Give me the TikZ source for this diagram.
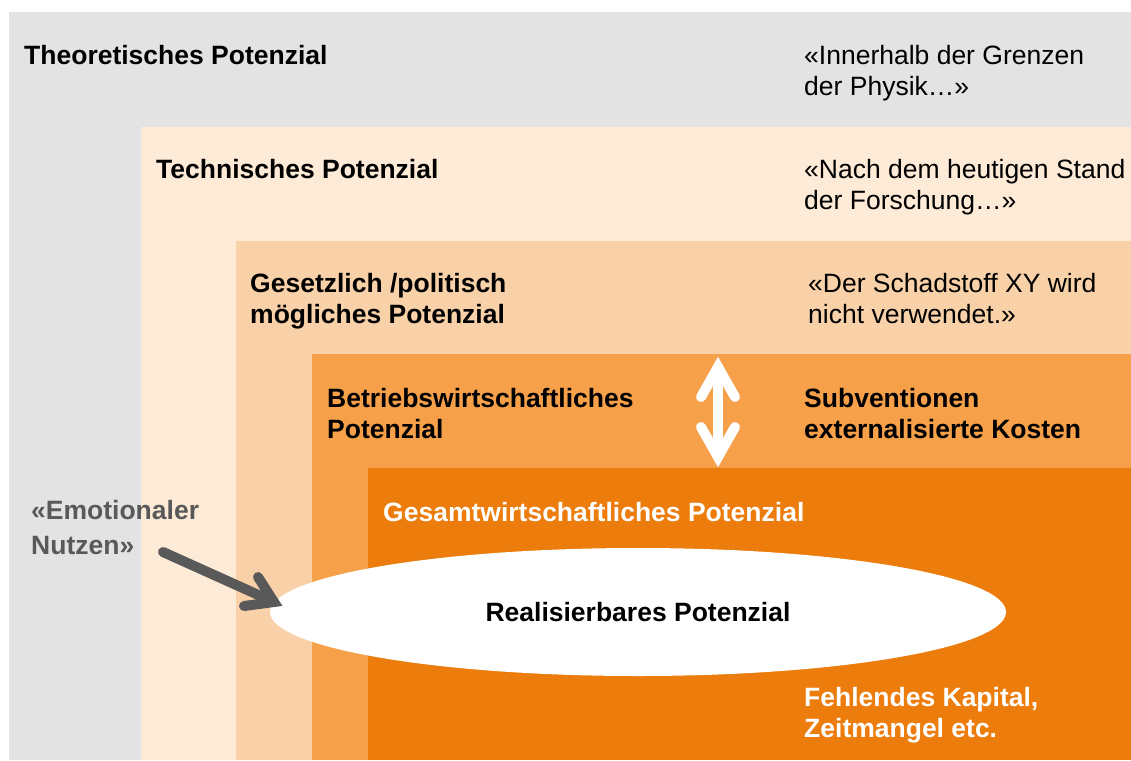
\documentclass[tikz,border=0pt]{standalone}
\usepackage{fontspec}
\setmainfont{Liberation Sans}
\usetikzlibrary{shapes.geometric}
\definecolor{cGray}{HTML}{E3E3E3}
\definecolor{cTech}{HTML}{FDEAD7}
\definecolor{cLaw}{HTML}{F9D1A8}
\definecolor{cBiz}{HTML}{F6A04A}
\definecolor{cEco}{HTML}{EC7C0B}
\definecolor{cArrow}{HTML}{595959}
\begin{document}
\begin{tikzpicture}[x=1pt,y=-1pt,
  lbl/.style={anchor=base west, inner sep=0pt, align=left, font=\fontsize{26.5}{31}\selectfont},
  blbl/.style={lbl, font=\fontsize{26.5}{31}\selectfont\bfseries},
  fatarrow/.style={line width=10pt, line cap=round, line join=miter, miter limit=10}]
\useasboundingbox[fill=white] (0,0) rectangle (1131,760);
% nested zones
\fill[cGray] (9,12) rectangle (1131,760);
\fill[cTech] (141,127) rectangle (1131,760);
\fill[cLaw] (236,241) rectangle (1131,760);
\fill[cBiz] (312,354) rectangle (1131,760);
\fill[cEco] (368,468) rectangle (1131,760);
% realisable potential
\node[ellipse, fill=white, minimum width=736pt, minimum height=128pt, inner sep=0pt,
  font=\fontsize{26.5}{31}\selectfont\bfseries] (real) at (638,612) {Realisierbares Potenzial};
% labels (multi-line nodes: base = last line's baseline)
\node[blbl] (theo) at (24,64) {Theoretisches Potenzial};
\node[lbl] (theoq) at (804,95) {«Innerhalb der Grenzen\\der Physik…»};
\node[blbl] (tech) at (156,178) {Technisches Potenzial};
\node[lbl] (techq) at (804,209) {«Nach dem heutigen Stand\\der Forschung…»};
\node[blbl] (law) at (250,323) {Gesetzlich /politisch\\mögliches Potenzial};
\node[lbl] (lawq) at (808,323) {«Der Schadstoff XY wird\\nicht verwendet.»};
\node[blbl] (biz) at (327,438) {Betriebswirtschaftliches\\Potenzial};
\node[blbl] (bizq) at (804,438) {Subventionen\\externalisierte Kosten};
\node[blbl, text=white] (eco) at (383,521) {Gesamtwirtschaftliches Potenzial};
\node[blbl, text=white] (ecoq) at (804,737) {Fehlendes Kapital,\\Zeitmangel etc.};
\node[blbl, text=cArrow, font=\fontsize{26.5}{35}\selectfont\bfseries] (emo) at (31,554) {«Emotionaler\\Nutzen»};
% double arrow between Betriebs- and Gesamtwirtschaftlich
\coordinate (up) at (718,367);
\coordinate (dn) at (718,457);
\coordinate (ul) at (701,397);
\coordinate (ur) at (735,397);
\coordinate (dl) at (701,427);
\coordinate (dr) at (735,427);
\draw[fatarrow, white] (up) -- (dn);
\draw[fatarrow, white] (ul) -- (up) -- (ur);
\draw[fatarrow, white] (dl) -- (dn) -- (dr);
% emotional arrow
\coordinate (es) at (163,552);
\coordinate (et) at (274,602);
\coordinate (ea) at (258,577);
\coordinate (eb) at (244,606);
\draw[fatarrow, cArrow] (es) -- (et);
\draw[fatarrow, cArrow] (ea) -- (et) -- (eb);
\end{tikzpicture}
\end{document}
